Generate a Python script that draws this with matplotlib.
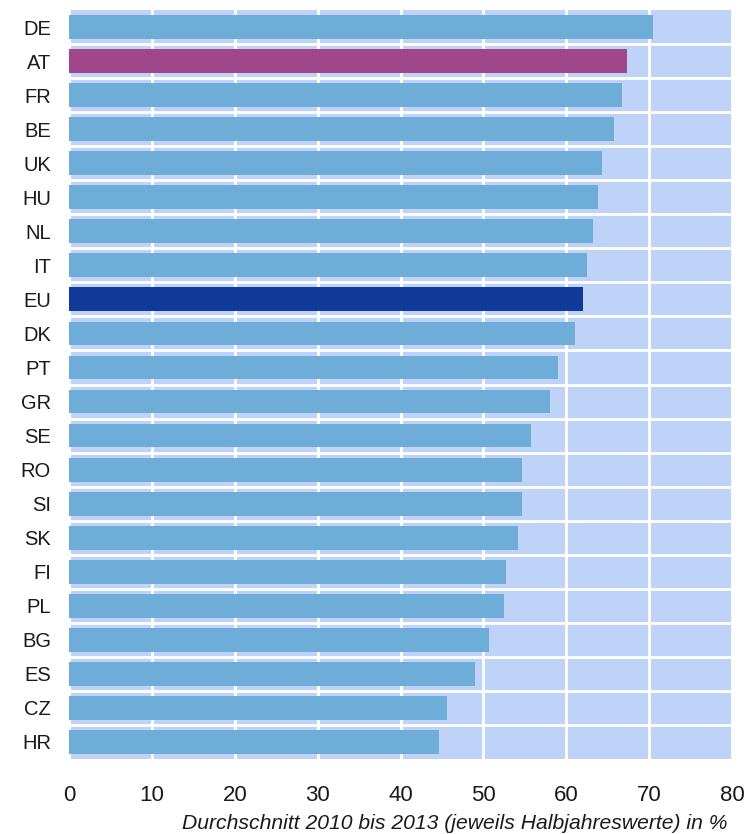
import matplotlib.pyplot as plt
import numpy as np

# Laender und Werte (Durchschnitt 2010 bis 2013, in %)
laender = ['DE', 'AT', 'FR', 'BE', 'UK', 'HU', 'NL', 'IT', 'EU', 'DK', 'PT',
           'GR', 'SE', 'RO', 'SI', 'SK', 'FI', 'PL', 'BG', 'ES', 'CZ', 'HR']
werte = [70.5, 67.3, 66.7, 65.8, 64.3, 63.8, 63.2, 62.5, 62.0, 61.1, 59.0,
         58.0, 55.7, 54.7, 54.7, 54.2, 52.7, 52.5, 50.7, 49.0, 45.6, 44.7]
x_ticks = [0, 10, 20, 30, 40, 50, 60, 70, 80]

plt.rcParams['font.family'] = ['Liberation Sans', 'DejaVu Sans']

farben = []
for land in laender:
    if land == 'AT':
        farben.append('#a0478c')
    elif land == 'EU':
        farben.append('#103a9a')
    else:
        farben.append('#6fadd9')

fig = plt.figure(figsize=(7.47, 8.34), dpi=100)
ax = fig.add_axes([69 / 747, 1 - 759 / 834, (732 - 69) / 747, (759 - 10) / 834])

pos = np.arange(len(laender))
ax.barh(pos, werte, height=0.7, color=farben, zorder=3)

ax.set_facecolor('#bfd2f8')
ax.set_xlim(0, 80)
ax.set_ylim(len(laender) - 0.5, -0.5)
ax.set_xticks(x_ticks)
ax.set_yticks(pos)
ax.set_yticklabels(laender)
ax.set_yticks(np.arange(len(laender) - 1) + 0.5, minor=True)

ax.grid(axis='x', which='major', color='white', linewidth=2, zorder=1)
ax.grid(axis='y', which='minor', color='white', linewidth=2, zorder=1)
ax.set_axisbelow(True)

for s in ax.spines.values():
    s.set_visible(False)

ax.tick_params(axis='y', which='both', length=0, labelsize=14.5, pad=13, labelcolor='#1a1a1a')
ax.tick_params(axis='x', which='both', length=0, labelsize=16, pad=18.5, labelcolor='#1a1a1a')

fig.text(727 / 747, 1 - 829 / 834, 'Durchschnitt 2010 bis 2013 (jeweils Halbjahreswerte) in %',
         ha='right', va='baseline', fontsize=15.2, style='italic', color='#1a1a1a')

plt.savefig('out.png', dpi=100)
